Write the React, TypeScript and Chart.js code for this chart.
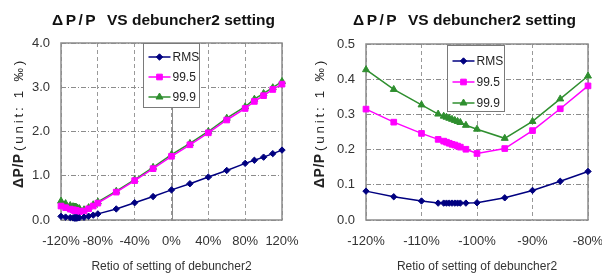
import React, { useEffect, useRef } from 'react';
import { Chart, registerables } from 'chart.js';

Chart.register(...registerables);

// ---------- data ----------
const settingRatios = [
  -120, -115, -110, -107, -106, -105.5, -105, -104.5, -104, -103.5, -103, -102, -100, -95, -90, -85, -80,
  -60, -40, -20, 0, 20, 40, 60, 80, 90, 100, 110, 120,
];
const rmsValues = [
  0.082, 0.066, 0.054, 0.048, 0.048, 0.048, 0.048, 0.048, 0.048, 0.048, 0.048, 0.048, 0.049, 0.063, 0.084, 0.11, 0.138,
  0.25, 0.39, 0.53, 0.68, 0.82, 0.97, 1.12, 1.28, 1.35, 1.42, 1.5, 1.58,
];
const p995Values = [
  0.315, 0.278, 0.246, 0.229, 0.224, 0.221, 0.218, 0.215, 0.213, 0.21, 0.207, 0.201, 0.189, 0.203, 0.254, 0.316, 0.381,
  0.63, 0.89, 1.16, 1.44, 1.7, 1.97, 2.26, 2.52, 2.68, 2.81, 2.95, 3.07,
];
const p999Values = [
  0.427, 0.371, 0.327, 0.301, 0.295, 0.292, 0.289, 0.286, 0.283, 0.28, 0.277, 0.269, 0.258, 0.232, 0.28, 0.344, 0.409,
  0.65, 0.91, 1.19, 1.48, 1.73, 2.0, 2.3, 2.56, 2.73, 2.86, 2.99, 3.13,
];
const seriesNames = ['RMS', '99.5', '99.9'];
const titleParts = ['ΔP/P', 'VS debuncher2 setting'];
const yTitleParts = ['ΔP/P', '(unit: 1 ‰)'];
const xTitleText = 'Retio of setting of debuncher2';

// ---------- styles ----------
const FONT = '"Liberation Sans", Arial, sans-serif';
const COLORS = ['#000080', '#ff00ff', '#2f8f2f'];
const MARKERS = ['rectRot', 'rect', 'triangle'];
const RADII = [3.2, 4, 4];
const W = 301;
const H = 277;

type Cfg = {
  xMin: number; xMax: number; xStep: number;
  yMin: number; yMax: number; yStep: number;
  area: { left: number; right: number; top: number; bottom: number };
  legend: { x: number; y: number; w: number; h: number; rows: number[] };
  zeroLine: boolean;
};

const leftCfg: Cfg = {
  xMin: -120, xMax: 120, xStep: 40, yMin: 0, yMax: 4, yStep: 1,
  area: { left: 61, right: 282, top: 43, bottom: 220 },
  legend: { x: 143.5, y: 43.5, w: 56, h: 64, rows: [57, 77, 97] },
  zeroLine: true,
};
const rightCfg: Cfg = {
  xMin: -120, xMax: -80, xStep: 10, yMin: 0, yMax: 0.5, yStep: 0.1,
  area: { left: 65, right: 287, top: 44, bottom: 220 },
  legend: { x: 146.5, y: 45.5, w: 57, h: 66, rows: [61, 82, 103] },
  zeroLine: false,
};

function drawMarker(ctx: CanvasRenderingContext2D, style: string, x: number, y: number, r: number, color: string) {
  ctx.save();
  ctx.fillStyle = color;
  ctx.strokeStyle = color;
  ctx.lineWidth = 1;
  ctx.beginPath();
  if (style === 'rectRot') {
    ctx.moveTo(x - r, y); ctx.lineTo(x, y - r); ctx.lineTo(x + r, y); ctx.lineTo(x, y + r); ctx.closePath();
  } else if (style === 'rect') {
    const s = r * Math.SQRT1_2;
    ctx.rect(x - s, y - s, 2 * s, 2 * s);
  } else {
    let a = 0;
    ctx.moveTo(x + Math.sin(a) * r, y - Math.cos(a) * r);
    a += (2 * Math.PI) / 3;
    ctx.lineTo(x + Math.sin(a) * r, y - Math.cos(a) * r);
    a += (2 * Math.PI) / 3;
    ctx.lineTo(x + Math.sin(a) * r, y - Math.cos(a) * r);
    ctx.closePath();
  }
  ctx.fill();
  ctx.stroke();
  ctx.restore();
}

function makeDecor(cfg: Cfg) {
  return {
    id: 'decor',
    beforeDatasetsDraw(chart: any) {
      const { ctx, chartArea: a } = chart;
      ctx.save();
      if (cfg.zeroLine) {
        const x0 = Math.round(chart.scales.x.getPixelForValue(0)) + 0.5;
        ctx.strokeStyle = '#8c8c8c';
        ctx.lineWidth = 1;
        ctx.beginPath();
        ctx.moveTo(x0, a.top);
        ctx.lineTo(x0, a.bottom);
        ctx.stroke();
      }
      ctx.strokeStyle = '#8c8c8c';
      ctx.lineWidth = 1.5;
      ctx.strokeRect(a.left, a.top, a.right - a.left, a.bottom - a.top);
      ctx.restore();
    },
    afterDraw(chart: any) {
      const { ctx } = chart;
      ctx.save();
      // chart title
      ctx.fillStyle = '#111';
      ctx.textBaseline = 'alphabetic';
      ctx.textAlign = 'left';
      ctx.font = `bold 15.5px ${FONT}`;
      (ctx as any).letterSpacing = '2.5px';
      ctx.fillText(titleParts[0], 52, 25);
      (ctx as any).letterSpacing = '0px';
      ctx.fillText(titleParts[1], 107, 25);
      // y axis title (rotated)
      ctx.save();
      ctx.translate(23, 0);
      ctx.rotate(-Math.PI / 2);
      ctx.fillStyle = '#222';
      ctx.font = `bold 14px ${FONT}`;
      (ctx as any).letterSpacing = '0.5px';
      ctx.fillText(yTitleParts[0], -188, 0);
      ctx.font = `13.5px ${FONT}`;
      (ctx as any).letterSpacing = '0px';
      const wPlain = ctx.measureText(yTitleParts[1]).width;
      const sp = Math.max(0, (93 - wPlain) / yTitleParts[1].length);
      (ctx as any).letterSpacing = `${sp}px`;
      ctx.fillText(yTitleParts[1], -151, 0);
      (ctx as any).letterSpacing = '0px';
      ctx.restore();
      // legend
      const L = cfg.legend;
      ctx.fillStyle = '#ffffff';
      ctx.fillRect(L.x, L.y, L.w, L.h);
      ctx.strokeStyle = '#7a7a7a';
      ctx.lineWidth = 1;
      ctx.strokeRect(L.x, L.y, L.w, L.h);
      ctx.font = `12px ${FONT}`;
      ctx.textBaseline = 'middle';
      for (let i = 0; i < seriesNames.length; i++) {
        const y = L.rows[i];
        ctx.strokeStyle = COLORS[i];
        ctx.lineWidth = 1.5;
        ctx.beginPath();
        ctx.moveTo(L.x + 5, y);
        ctx.lineTo(L.x + 27, y);
        ctx.stroke();
        drawMarker(ctx, MARKERS[i], L.x + 16, y, RADII[i], COLORS[i]);
        ctx.fillStyle = '#222';
        ctx.fillText(seriesNames[i], L.x + 29, y + 1);
      }
      ctx.restore();
    },
  };
}

function buildDatasets(cfg: Cfg) {
  const series = [rmsValues, p995Values, p999Values];
  return series.map((vals, i) => ({
    label: seriesNames[i],
    data: settingRatios
      .map((x, j) => ({ x, y: vals[j] }))
      .filter((p) => p.x >= cfg.xMin && p.x <= cfg.xMax),
    borderColor: COLORS[i],
    backgroundColor: COLORS[i],
    borderWidth: 1.5,
    pointStyle: MARKERS[i],
    pointRadius: RADII[i],
    pointBorderWidth: 1,
    pointBackgroundColor: COLORS[i],
    pointBorderColor: COLORS[i],
    tension: 0,
    clip: false as any,
  }));
}

function ChartPanel({ cfg }: { cfg: Cfg }) {
  const ref = useRef<HTMLCanvasElement | null>(null);
  useEffect(() => {
    if (!ref.current) return;
    const a = cfg.area;
    const chart = new Chart(ref.current, {
      type: 'line',
      data: { datasets: buildDatasets(cfg) as any },
      options: {
        animation: false,
        responsive: false,
        devicePixelRatio: 1,
        layout: { padding: { left: 0, right: W - a.right, top: a.top, bottom: 0 } },
        plugins: { legend: { display: false }, title: { display: false }, tooltip: { enabled: false } },
        scales: {
          x: {
            type: 'linear',
            min: cfg.xMin,
            max: cfg.xMax,
            afterFit: (s: any) => { s.height = H - a.bottom; s.paddingLeft = 0; s.paddingRight = 0; },
            ticks: {
              stepSize: cfg.xStep,
              autoSkip: false,
              maxRotation: 0,
              padding: 14,
              color: '#333',
              font: { family: FONT, size: 13 },
              callback: (v: any) => `${Math.round(Number(v))}%`,
            },
            grid: { color: '#999999', lineWidth: 1, drawTicks: false },
            border: { display: false, dash: [4, 3] },
            title: {
              display: true,
              text: xTitleText,
              color: '#333',
              font: { family: FONT, size: 12 },
              padding: { top: 0, bottom: 3 },
            },
          },
          y: {
            type: 'linear',
            min: cfg.yMin,
            max: cfg.yMax,
            afterFit: (s: any) => { s.width = a.left; s.paddingTop = 0; s.paddingBottom = 0; },
            ticks: {
              stepSize: cfg.yStep,
              padding: 11,
              color: '#333',
              font: { family: FONT, size: 13 },
              callback: (v: any) => Number(v).toFixed(1),
            },
            grid: { color: '#8c8c8c', lineWidth: 1, drawTicks: false },
            border: { display: false, dash: [5, 2, 1, 2] },
          },
        },
      } as any,
      plugins: [makeDecor(cfg)],
    });
    return () => chart.destroy();
  }, [cfg]);
  return <canvas ref={ref} width={W} height={H} style={{ display: 'block', width: W, height: H }} />;
}

export default function App() {
  return (
    <div style={{ position: 'absolute', left: 0, top: 0, width: 602, height: 277, display: 'flex', background: '#fff' }}>
      <ChartPanel cfg={leftCfg} />
      <ChartPanel cfg={rightCfg} />
    </div>
  );
}
